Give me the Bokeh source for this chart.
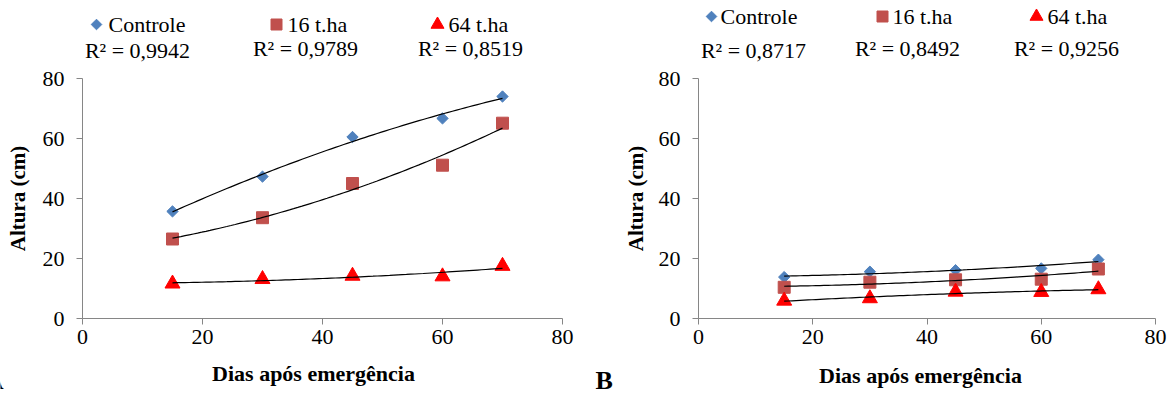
import numpy as np
from bokeh.plotting import figure
from bokeh.layouts import column, row
from bokeh.models import Range1d, FixedTicker
from bokeh.core.properties import value
from bokeh.embed import file_html
from bokeh.resources import INLINE

# ---------------- data ----------------
dias = [15, 30, 45, 60, 70]
series_names = ["Controle", "16 t.ha", "64 t.ha"]
a_controle = [35.7, 47.3, 60.5, 66.7, 74.0]
a_16 = [26.5, 33.6, 45.0, 51.1, 65.1]
a_64 = [11.6, 13.1, 14.2, 14.0, 17.5]
b_controle = [13.8, 15.6, 16.1, 16.7, 19.6]
b_16 = [10.4, 12.1, 12.9, 13.1, 16.5]
b_64 = [5.9, 6.7, 8.9, 8.8, 9.7]
r2_a = ["R² = 0,9942", "R² = 0,9789", "R² = 0,8519"]
r2_b = ["R² = 0,8717", "R² = 0,8492", "R² = 0,9256"]
x_ticks = [0, 20, 40, 60, 80]
y_ticks = [0, 20, 40, 60, 80]
x_title = "Dias após emergência"
y_title = "Altura (cm)"
panel_letters = ["A", "B"]

# ---------------- style ----------------
FONT = "'Liberation Serif', 'Times New Roman', serif"
COLORS = ["#4F81BD", "#C0504D", "#FF0000"]
MARKERS = [("square", np.pi / 4, 8), ("square", 0, 12), ("triangle", 0, 15)]
LEG_MARKERS = [("square", np.pi / 4, 7.5), ("square", 0, 11), ("triangle", 0, 13)]
AXIS_GRAY = "#868686"
W, H = 1173, 394
TOP_H = 64          # legend strip
BOT_Y = 359         # canvas y where bottom strip starts
PLOT_H = BOT_Y - TOP_H


def panel(series, width, left, right, frame_top, frame_bottom, ylab_standoff):
    p = figure(width=width, height=PLOT_H, x_range=Range1d(0, 80), y_range=Range1d(0, 80),
               output_backend="svg", toolbar_location=None,
               min_border_left=left, min_border_right=right,
               min_border_top=frame_top - TOP_H, min_border_bottom=BOT_Y - frame_bottom)
    p.outline_line_color = None
    p.xgrid.visible = False
    p.ygrid.visible = False
    for ys, c, (m, ang, s) in zip(series, COLORS, MARKERS):
        p.scatter(dias, ys, marker=m, angle=ang, size=s, fill_color=c, line_color=c)
    for ys in series:
        coef = np.polyfit(dias, ys, 2)
        xx = np.linspace(dias[0], dias[-1], 80)
        p.line(xx, np.polyval(coef, xx), line_color="black", line_width=1.2)
    p.xaxis.ticker = FixedTicker(ticks=x_ticks)
    p.yaxis.ticker = FixedTicker(ticks=y_ticks)
    for ax in (p.xaxis, p.yaxis):
        ax.axis_line_color = AXIS_GRAY
        ax.major_tick_line_color = AXIS_GRAY
        ax.major_tick_out = 6
        ax.major_tick_in = 0
        ax.minor_tick_line_color = None
        ax.major_label_text_font = FONT
        ax.major_label_text_font_size = "22px"
        ax.major_label_text_color = "black"
    p.yaxis.axis_label = y_title
    p.yaxis.axis_label_text_font = FONT
    p.yaxis.axis_label_text_font_style = "bold"
    p.yaxis.axis_label_text_color = "black"
    p.yaxis.axis_label_text_font_size = "21px"
    p.xaxis.major_label_standoff = 5
    p.yaxis.major_label_standoff = 12
    p.yaxis.axis_label_standoff = ylab_standoff
    return p


pa = panel([a_controle, a_16, a_64], 590, 82, 28, 78, 322, 10)
pb = panel([b_controle, b_16, b_64], W - 590, 108, 18, 70, 318, 8)


def strip(height, y0):
    """Blank full-width figure whose data units are canvas pixels (y downwards from y0)."""
    s = figure(width=W, height=height, x_range=Range1d(0, W), y_range=Range1d(y0 + height, y0),
               x_axis_type=None, y_axis_type=None, toolbar_location=None,
               output_backend="svg", min_border=0)
    s.outline_line_color = None
    s.xgrid.visible = False
    s.ygrid.visible = False
    return s


# ---------------- legend strip (top) ----------------
leg = strip(TOP_H, 0)
LEG_SETS = [
    dict(mark_x=[96, 276, 437], mark_y=24, text_dx=[12, 11, 11], r2=r2_a,
         r2_x=[137, 305, 470], r2_y=[50, 48, 48]),
    dict(mark_x=[711, 882, 1036], mark_y=16, text_dx=[9, 10, 11], r2=r2_b,
         r2_x=[753, 907, 1066], r2_y=[50, 48, 48]),
]
for ls in LEG_SETS:
    for mx, c, (m, ang, s) in zip(ls["mark_x"], COLORS, LEG_MARKERS):
        leg.scatter([mx], [ls["mark_y"]], marker=m, angle=ang, size=s, fill_color=c, line_color=c)
    leg.text(x=[mx + d for mx, d in zip(ls["mark_x"], ls["text_dx"])],
             y=[ls["mark_y"]] * 3, text=series_names,
             text_font=value(FONT), text_font_size=value("22px"),
             text_align="left", text_baseline="middle", text_color="black")
    leg.text(x=ls["r2_x"], y=ls["r2_y"], text=ls["r2"],
             text_font=value(FONT), text_font_size=value("22px"),
             text_align="center", text_baseline="middle", text_color="black")

# ---------------- bottom strip: x titles and panel letters ----------------
bot = strip(H - BOT_Y, BOT_Y)
bot.text(x=[313, 920], y=[372.5, 375], text=[x_title, x_title],
         text_font=value(FONT), text_font_size=value("22px"), text_font_style="bold",
         text_align="center", text_baseline="middle", text_color="black")
bot.text(x=[3], y=[380], text=[panel_letters[0]],
         text_font=value(FONT), text_font_size=value("26px"), text_font_style="bold",
         text_align="right", text_baseline="middle", text_color="black")
bot.text(x=[595], y=[379.5], text=[panel_letters[1]],
         text_font=value(FONT), text_font_size=value("26px"), text_font_style="bold",
         text_align="left", text_baseline="middle", text_color="black")

layout = column(leg, row(pa, pb, spacing=0), bot, spacing=0)
open("out.html", "w").write(file_html(layout, INLINE))
